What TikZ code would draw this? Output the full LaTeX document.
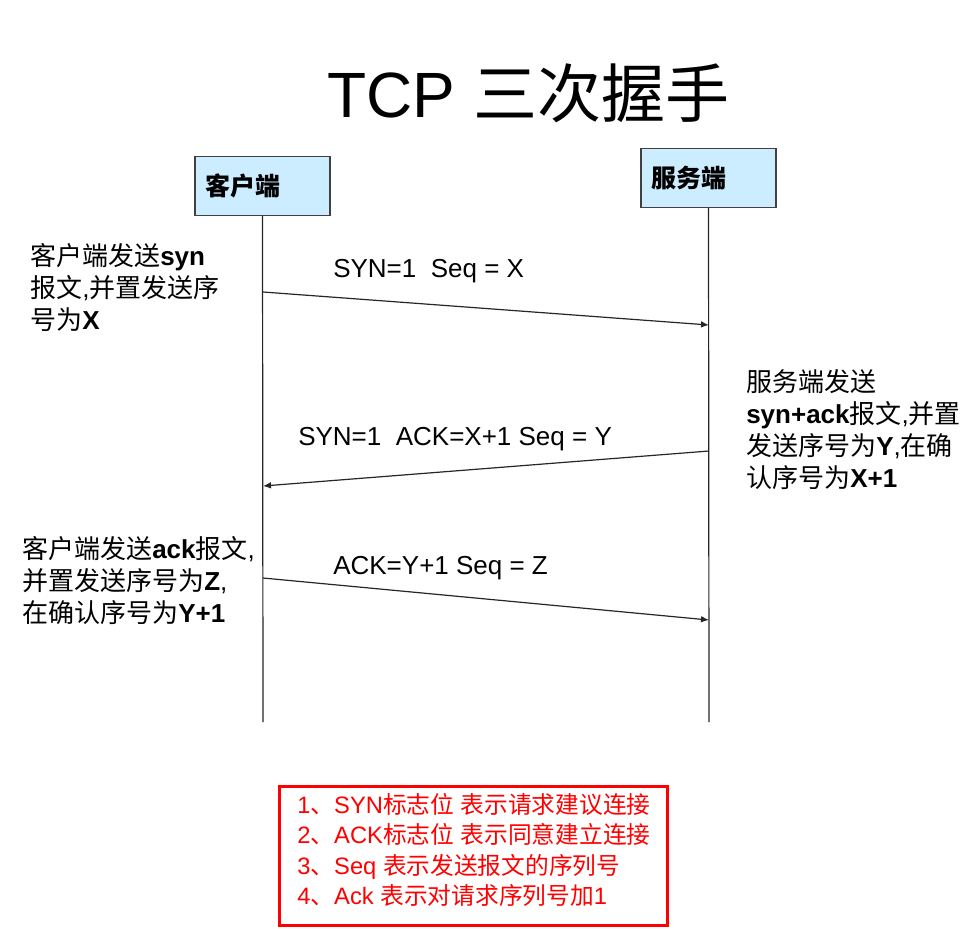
\documentclass[tikz,border=0pt]{standalone}
\usepackage{fontspec}
\setmainfont{Liberation Sans}
\newfontfamily\cjk{Noto Sans CJK SC}
\usetikzlibrary{arrows.meta}
\newcommand{\zh}[1]{{\cjk #1}}
\definecolor{partyblue}{HTML}{CCECFF}

\begin{document}
\begin{tikzpicture}[x=0.75pt, y=-0.75pt,
  party/.style={draw=black!75, fill=partyblue, line width=0.9pt, minimum height=44pt,
    inner xsep=7.5pt, text width=86.25pt, align=left,
    font=\fontsize{18.75}{22}\selectfont\bfseries},
  lifeline/.style={draw=black!85, line width=0.9pt},
  msg/.style={draw=black!85, line width=0.9pt, -{Latex[length=6pt, width=5pt]}},
  msglabel/.style={anchor=west, inner sep=0pt, font=\fontsize{19.5}{24}\selectfont},
  note/.style={anchor=north west, inner sep=0pt, align=left, font=\fontsize{19.5}{24}\selectfont},
  legend/.style={draw=red, line width=2.25pt, text=red, minimum width=291pt, minimum height=104pt,
    inner xsep=4pt, align=left, font=\fontsize{17.8}{22.9}\selectfont}]
  \fill[white] (0,0) rectangle (970,928);
  \useasboundingbox (0,0) rectangle (970,928);

  % title
  \node[anchor=base west, inner sep=0pt, font=\fontsize{48}{56}\selectfont] (title) at (327,117) {TCP \zh{三次握手}};

  % the two ends
  \node[party] (client) at (262.5,186) {\zh{客户端}};
  \node[party] (server) at (708.5,178) {\zh{服务端}};
  \coordinate (cend) at (263,722);
  \coordinate (send) at (709,722);
  \draw[lifeline] (client.south) -- (cend);
  \draw[lifeline] (server.south) -- (send);

  % messages
  \coordinate (syn-a) at (263,292);
  \coordinate (syn-b) at (709,325);
  \coordinate (synack-a) at (709,451);
  \coordinate (synack-b) at (263,486);
  \coordinate (ack-a) at (263,578);
  \coordinate (ack-b) at (709,620);
  \draw[msg] (syn-a) -- (syn-b);
  \draw[msg] (synack-a) -- (synack-b);
  \draw[msg] (ack-a) -- (ack-b);
  \node[msglabel] (synlbl) at (333,271) {SYN=1\ \ Seq = X};
  \node[msglabel] (synacklbl) at (298,439) {SYN=1\ \ ACK=X+1 Seq = Y};
  \node[msglabel] (acklbl) at (333,568) {ACK=Y+1 Seq = Z};

  % notes
  \node[note] (note1) at (30,243) {\zh{客户端发送}\textbf{syn}\\ \zh{报文},\zh{并置发送序}\\ \zh{号为}\textbf{X}};
  \node[note] (note2) at (746,369) {\zh{服务端发送}\\ \textbf{syn+ack}\zh{报文},\zh{并置}\\ \zh{发送序号为}\textbf{Y},\zh{在确}\\ \zh{认序号为}\textbf{X+1}};
  \node[note] (note3) at (22,536) {\zh{客户端发送}\textbf{ack}\zh{报文},\\ \zh{并置发送序号为}\textbf{Z},\\ \zh{在确认序号为}\textbf{Y+1}};

  % legend
  \draw[legend] (279,786) rectangle (667,925);
  \node[anchor=north west, inner sep=0pt, text=red, align=left, font=\fontsize{17.8}{22.9}\selectfont] (legend) at (297,793) {1\zh{、}SYN\zh{标志位} \zh{表示请求建议连接}\\ 2\zh{、}ACK\zh{标志位} \zh{表示同意建立连接}\\ 3\zh{、}Seq \zh{表示发送报文的序列号}\\ 4\zh{、}Ack \zh{表示对请求序列号加}1};
\end{tikzpicture}
\end{document}
